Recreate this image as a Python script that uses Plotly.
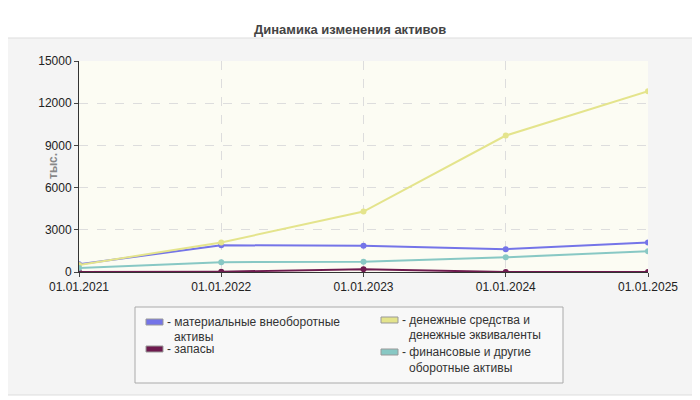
import plotly.graph_objects as go

dates = ["01.01.2021", "01.01.2022", "01.01.2023", "01.01.2024", "01.01.2025"]
fixed = [550, 1900, 1870, 1620, 2100]
stocks = [0, 20, 200, 0, 0]
cash = [500, 2100, 4300, 9700, 12850]
other = [280, 700, 730, 1050, 1480]
colors = ["#7474e8", "#6e1a4e", "#e4e48c", "#88c8c4"]
series = [fixed, stocks, cash, other]
legend_lines = [["- материальные внеоборотные", "активы"],
                ["- запасы"],
                ["- денежные средства и", "денежные эквиваленты"],
                ["- финансовые и другие", "оборотные активы"]]

OFF = 8
L, R, T, B = 79 - OFF, 648 - OFF, 61 - OFF, 272 - OFF
W, H = R - L, B - T
def px(x): return (x - OFF - L) / W
def py(y): return (B - (y - OFF)) / H

fig = go.Figure()
for n, s, c in zip(legend_lines, series, colors):
    fig.add_trace(go.Scatter(x=list(range(len(dates))), y=s, name=" ".join(n), mode="lines+markers",
                             line=dict(color=c, width=2), marker=dict(color=c, size=6),
                             showlegend=False))

shapes = [dict(type="rect", xref="paper", yref="paper", x0=px(1), x1=px(697), y0=py(38), y1=py(395),
               fillcolor="#f4f4f4", line=dict(color="#dddddd", width=1), layer="below"),
          dict(type="rect", xref="paper", yref="paper", x0=0, x1=1, y0=0, y1=1,
               fillcolor="#fcfcf3", line=dict(width=0), layer="below"),
          dict(type="rect", xref="paper", yref="paper", x0=px(135), x1=px(563), y0=py(307), y1=py(383),
               fillcolor="#f8f8f8", line=dict(color="#aaaaaa", width=1), layer="below")]
ann = []
pos = [(146, 322, [322, 337]), (146, 349, [349]), (381, 320, [320, 335]), (381, 352, [352, 368])]
for (x, y, ys), c, lines in zip(pos, colors, legend_lines):
    shapes.append(dict(type="rect", xref="paper", yref="paper", x0=px(x), x1=px(x + 17),
                       y0=py(y - 3), y1=py(y + 3), fillcolor=c, line=dict(color="#999", width=1)))
    for i, (t, yy) in enumerate(zip(lines, ys)):
        ann.append(dict(xref="paper", yref="paper", x=px(x + 19 if i == 0 else x + 26), y=py(yy),
                        xanchor="left", yanchor="middle", text=t, showarrow=False,
                        font=dict(size=12, color="#333")))
ann.append(dict(xref="paper", yref="paper", x=px(350), y=py(20), text="<b>Динамика изменения активов</b>",
                showarrow=False, font=dict(size=13, color="#444")))
ann.append(dict(xref="paper", yref="paper", x=px(44), y=py(166), text="<b>тыс.</b>", textangle=-90,
                showarrow=False, font=dict(size=12, color="#888")))

fig.update_layout(
    width=700, height=400, margin=dict(l=L, r=700 - R, t=T, b=400 - B),
    paper_bgcolor="white", plot_bgcolor="#fcfcf3",
    font=dict(family="Liberation Sans, Arial", size=12, color="#222"),
    shapes=shapes, annotations=ann,
    xaxis=dict(tickmode="array", tickvals=list(range(5)), ticktext=dates, range=[0, 4],
               showgrid=True, gridcolor="#dddddd", griddash="dash", zeroline=False,
               showline=True, linecolor="#333", ticks="outside", ticklen=4, tickfont=dict(size=12)),
    yaxis=dict(range=[0, 15000], tickvals=[0, 3000, 6000, 9000, 12000, 15000], tickformat="d",
               showgrid=True, gridcolor="#dddddd", griddash="dash", zeroline=False,
               showline=True, linecolor="#333", ticks="outside", ticklen=4, tickfont=dict(size=12)),
)
fig.write_html("out.html")
